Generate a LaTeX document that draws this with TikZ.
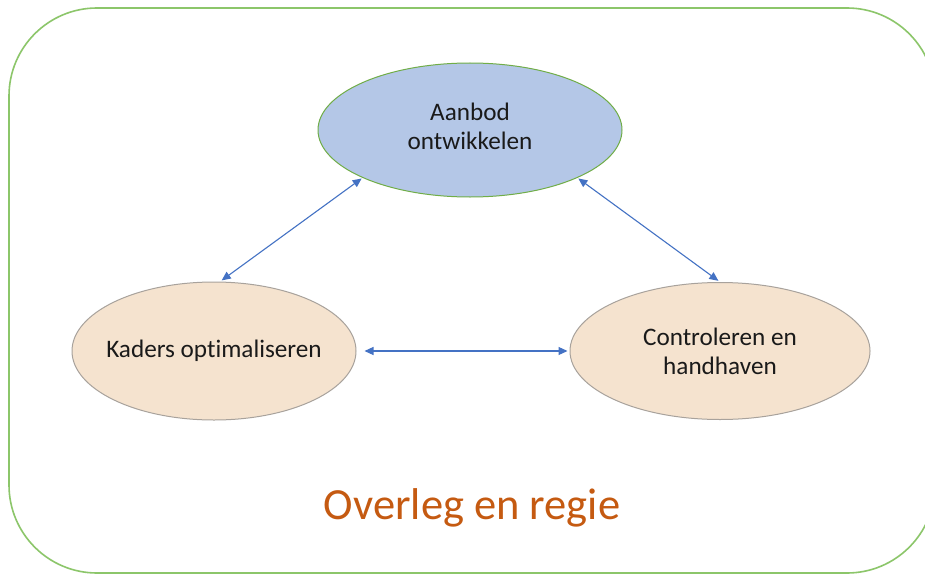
\documentclass[tikz,border=0pt]{standalone}
\usepackage{fontspec}
\setmainfont{Carlito}[Ligatures=NoCommon]
\usetikzlibrary{shapes.geometric,arrows.meta}
\definecolor{frameGreen}{HTML}{8CC66A}
\definecolor{topFill}{HTML}{B4C7E7}
\definecolor{topLine}{HTML}{70AD47}
\definecolor{sideFill}{HTML}{F5E3CF}
\definecolor{sideLine}{HTML}{A8A29C}
\definecolor{arrowBlue}{HTML}{4472C4}
\definecolor{titleOrange}{HTML}{C55A11}
\definecolor{txt}{HTML}{1A1A1A}
\tikzset{
  ell/.style={ellipse, inner xsep=-45pt, inner ysep=-12pt, line width=1pt, align=center, text=txt,
    font=\fontsize{25.2}{29}\selectfont},
  lbl/.style={inner sep=0pt, align=center, text=txt, font=\fontsize{25.2}{29}\selectfont},
  link/.style={arrowBlue, line width=1.1pt, {Triangle[length=9pt,width=8pt]}-{Triangle[length=9pt,width=8pt]}}
}
\begin{document}
\begin{tikzpicture}[x=1pt,y=-1pt]
\useasboundingbox (0,0) rectangle (925,575);
\clip (0,0) rectangle (925,575);
\fill[white] (0,0) rectangle (925,575);
\draw[frameGreen, line width=1.6pt, rounded corners=88pt] (9,8) rectangle (935,573);
\node[ell, draw=topLine, fill=topFill, minimum width=304pt, minimum height=134pt] (top) at (470,130) {};
\node[lbl] (topText) at (470,126) {Aanbod\\ontwikkelen};
\node[ell, draw=sideLine, fill=sideFill, minimum width=284pt, minimum height=138pt] (left) at (214,351) {Kaders optimaliseren};
\node[ell, draw=sideLine, fill=sideFill, minimum width=300pt, minimum height=137pt] (right) at (720,351) {Controleren en\\handhaven};
\node[font=\fontsize{44.5}{50}\selectfont, text=titleOrange] (title) at (472,508) {Overleg en regie};
\draw[link, shorten <=1pt, shorten >=2pt] (top.204) -- (left.85);
\draw[link, shorten <=1pt, shorten >=2pt] (top.336) -- (right.90);
\draw[link, shorten <=8pt, shorten >=2pt] (left.0) -- (right.180);
\end{tikzpicture}
\end{document}
